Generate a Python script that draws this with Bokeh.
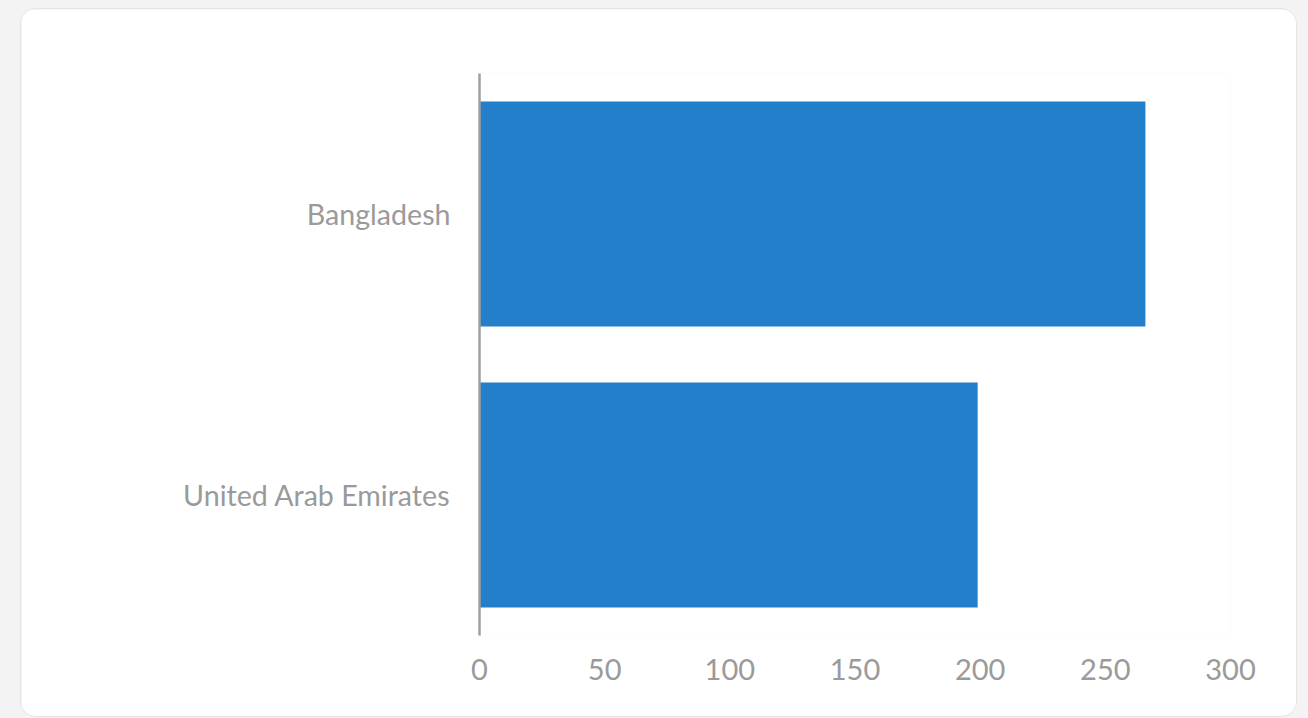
from bokeh.plotting import figure
from bokeh.models import FactorRange, Range1d, FixedTicker, GlobalInlineStyleSheet
from bokeh.embed import file_html
from bokeh.resources import INLINE

countries = ["United Arab Emirates", "Bangladesh"]
values = [199, 266]
x_ticks = [0, 50, 100, 150, 200, 250, 300]

p = figure(width=1277, height=709, output_backend="svg", toolbar_location=None,
           y_range=FactorRange(factors=countries, range_padding=0),
           x_range=Range1d(0, 300),
           min_border_left=458, min_border_right=68, min_border_top=64, min_border_bottom=83)

p.hbar(y=countries, right=values, left=0, height=0.8, color="#247fca", line_color=None)

p.background_fill_color = "white"
p.border_fill_color = "white"
p.outline_line_color = None
p.xgrid.grid_line_color = None
p.ygrid.grid_line_color = None

p.xaxis.ticker = FixedTicker(ticks=x_ticks)
p.xaxis.axis_line_color = None
p.xaxis.major_tick_line_color = None
p.xaxis.minor_tick_line_color = None
p.xaxis.major_label_standoff = 17
p.xaxis.major_label_text_font = "Lato"
p.xaxis.major_label_text_font_size = "29px"
p.xaxis.major_label_text_color = "#9a9a9a"

p.yaxis.axis_line_color = "#9f9f9f"
p.yaxis.axis_line_width = 2.5
p.yaxis.major_tick_line_color = None
p.yaxis.minor_tick_line_color = None
p.yaxis.major_label_standoff = 23
p.yaxis.major_label_text_font = "Lato"
p.yaxis.major_label_text_font_size = "28.6px"
p.yaxis.major_label_text_color = "#9a9a9a"

p.styles = {"margin-left": "20px", "margin-top": "8px", "border": "1px solid #e4e4e4",
            "border-radius": "16px", "overflow": "hidden", "box-sizing": "border-box"}
p.stylesheets = [GlobalInlineStyleSheet(css="html, body { background: #f3f3f3 !important; }")]

open("out.html", "w").write(file_html(p, INLINE))
